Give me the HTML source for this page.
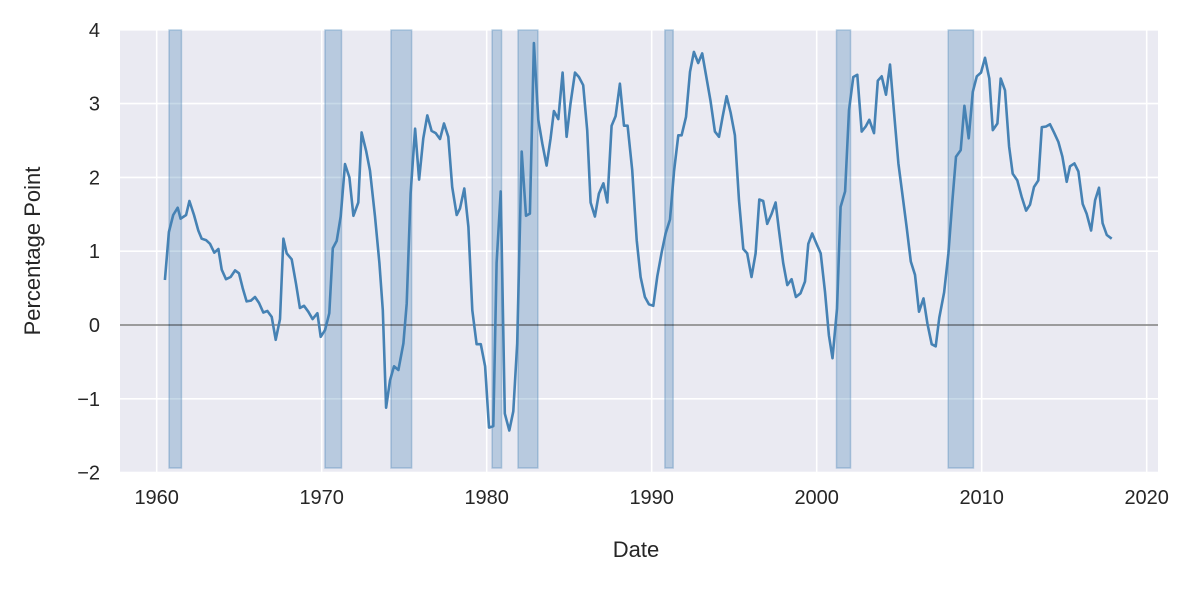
<!DOCTYPE html>
<html><head><meta charset="utf-8"><style>
body{margin:0;background:#fff;font-family:"Liberation Sans",Arial,sans-serif}
svg text{font-family:"Liberation Sans",Arial,sans-serif;fill:#262626}
</style></head><body>
<svg id="c" width="1196" height="585" viewBox="0 0 1196 585">
<defs><clipPath id="pc"><rect x="120" y="30" width="1038" height="442"/></clipPath></defs>
<rect x="120" y="30" width="1038" height="442" fill="#eaeaf2"/>
<g id="grid"></g><g id="bands"></g><g id="ticks"></g>
<line id="zero"/>
<path id="series" fill="none" stroke="#4682b4" stroke-width="2.6" stroke-linejoin="round" clip-path="url(#pc)"/>
<text x="636" y="557" text-anchor="middle" font-size="22">Date</text>
<text transform="translate(40,251) rotate(-90)" text-anchor="middle" font-size="22">Percentage Point</text>
</svg>
<script>
const xTicks=[1960,1970,1980,1990,2000,2010,2020];
const yTicks=[-2,-1,0,1,2,3,4];
const recStart=[1960.75,1970.2,1974.2,1980.33,1981.9,1990.8,2001.2,2007.97];
const recEnd=[1961.5,1971.2,1975.45,1980.9,1983.1,1991.3,2002.05,2009.5];
const dates=[1960.5,1960.74,1961.0,1961.27,1961.45,1961.78,1961.98,1962.26,1962.52,1962.73,1962.99,1963.23,1963.49,1963.74,1963.94,1964.2,1964.48,1964.75,1964.99,1965.21,1965.45,1965.71,1965.96,1966.2,1966.46,1966.71,1966.97,1967.21,1967.47,1967.68,1967.88,1968.18,1968.44,1968.68,1968.93,1969.19,1969.45,1969.74,1969.94,1970.2,1970.46,1970.67,1970.91,1971.15,1971.41,1971.68,1971.92,1972.22,1972.42,1972.69,1972.93,1973.23,1973.5,1973.7,1973.9,1974.14,1974.38,1974.65,1974.95,1975.15,1975.39,1975.66,1975.9,1976.16,1976.4,1976.66,1976.91,1977.17,1977.41,1977.67,1977.91,1978.18,1978.38,1978.64,1978.89,1979.13,1979.39,1979.64,1979.9,1980.14,1980.4,1980.6,1980.85,1981.1,1981.37,1981.61,1981.85,1982.12,1982.38,1982.62,1982.86,1983.13,1983.37,1983.63,1983.87,1984.07,1984.34,1984.6,1984.84,1985.08,1985.35,1985.59,1985.85,1986.09,1986.3,1986.56,1986.8,1987.07,1987.31,1987.57,1987.81,1988.07,1988.32,1988.54,1988.82,1989.09,1989.33,1989.59,1989.83,1990.1,1990.34,1990.6,1990.84,1991.11,1991.35,1991.61,1991.81,1992.08,1992.32,1992.56,1992.82,1993.06,1993.33,1993.57,1993.83,1994.08,1994.3,1994.54,1994.78,1995.04,1995.29,1995.55,1995.79,1996.05,1996.3,1996.52,1996.76,1997.0,1997.27,1997.51,1997.71,1997.97,1998.22,1998.48,1998.74,1999.02,1999.29,1999.49,1999.73,1999.99,2000.24,2000.5,2000.74,2000.96,2001.23,2001.45,2001.72,2001.96,2002.22,2002.46,2002.73,2002.97,2003.19,2003.47,2003.7,2003.94,2004.2,2004.44,2004.69,2004.95,2005.19,2005.45,2005.7,2005.96,2006.2,2006.47,2006.71,2006.97,2007.21,2007.43,2007.72,2007.98,2008.22,2008.44,2008.73,2008.95,2009.21,2009.46,2009.7,2009.96,2010.2,2010.46,2010.67,2010.95,2011.15,2011.41,2011.66,2011.88,2012.16,2012.42,2012.69,2012.93,2013.17,2013.43,2013.64,2013.9,2014.14,2014.38,2014.65,2014.89,2015.15,2015.35,2015.62,2015.86,2016.12,2016.36,2016.63,2016.87,2017.11,2017.33,2017.58,2017.88];
const values=[0.61,1.26,1.49,1.59,1.44,1.49,1.68,1.49,1.28,1.17,1.15,1.10,0.98,1.03,0.75,0.62,0.65,0.74,0.70,0.50,0.32,0.33,0.38,0.30,0.17,0.19,0.11,-0.20,0.08,1.17,0.97,0.89,0.56,0.23,0.26,0.18,0.08,0.16,-0.16,-0.07,0.16,1.04,1.14,1.47,2.18,2.00,1.48,1.66,2.61,2.36,2.09,1.47,0.84,0.20,-1.12,-0.75,-0.56,-0.61,-0.25,0.29,1.78,2.66,1.97,2.53,2.84,2.63,2.60,2.52,2.73,2.55,1.87,1.49,1.58,1.85,1.33,0.20,-0.26,-0.26,-0.56,-1.39,-1.37,0.84,1.81,-1.20,-1.43,-1.17,-0.25,2.35,1.48,1.51,3.82,2.78,2.46,2.16,2.53,2.90,2.79,3.42,2.55,3.00,3.42,3.36,3.25,2.64,1.66,1.47,1.78,1.92,1.66,2.70,2.83,3.27,2.70,2.70,2.10,1.15,0.65,0.38,0.28,0.26,0.66,0.98,1.24,1.43,2.08,2.57,2.57,2.82,3.43,3.70,3.55,3.68,3.34,3.03,2.62,2.55,2.82,3.10,2.88,2.57,1.69,1.03,0.97,0.65,0.97,1.70,1.68,1.37,1.51,1.66,1.29,0.84,0.54,0.62,0.38,0.43,0.59,1.10,1.24,1.10,0.97,0.45,-0.14,-0.45,0.22,1.60,1.81,2.91,3.36,3.39,2.62,2.69,2.78,2.60,3.31,3.37,3.12,3.53,2.87,2.19,1.78,1.33,0.86,0.68,0.18,0.36,0.02,-0.26,-0.29,0.10,0.44,0.97,1.67,2.28,2.37,2.97,2.53,3.16,3.37,3.42,3.62,3.34,2.64,2.73,3.34,3.18,2.42,2.05,1.96,1.74,1.55,1.63,1.87,1.96,2.68,2.69,2.72,2.61,2.48,2.28,1.94,2.15,2.19,2.08,1.64,1.51,1.28,1.69,1.86,1.38,1.22,1.17];
const NS='http://www.w3.org/2000/svg';
const X=yr=>156.7+16.5*(yr-1960);
const Y=v=>325-73.8*v;
function mk(tag,attrs,parent){const e=document.createElementNS(NS,tag);for(const k in attrs)e.setAttribute(k,attrs[k]);parent.appendChild(e);return e;}
const grid=document.getElementById('grid'),bands=document.getElementById('bands'),ticks=document.getElementById('ticks');
xTicks.forEach(t=>{
 const l=mk('line',{x1:X(t),x2:X(t),y1:30,y2:472,stroke:'#fff','stroke-width':1.6},grid);
 
 
 const tx=mk('text',{x:X(t),y:504,'text-anchor':'middle','font-size':20},ticks);
 tx.textContent=t;
 
 
});
yTicks.forEach(t=>{
 const l=mk('line',{x1:120,x2:1158,y1:Y(t),y2:Y(t),stroke:'#fff','stroke-width':1.6},grid);
 
 
 const tx=mk('text',{x:100,y:Y(t)+7,'text-anchor':'end','font-size':20},ticks);
 tx.textContent=t<0?'\u2212'+Math.abs(t):t;
 
 
});
recStart.forEach((s,i)=>{
 const r=mk('rect',{x:X(s),y:30,width:X(recEnd[i])-X(s),height:438,fill:'rgba(70,130,180,0.3)',stroke:'rgba(70,130,180,0.35)','stroke-width':1.5},bands);
 
 
});
const z=document.getElementById('zero');
z.setAttribute('x1',120);z.setAttribute('x2',1158);z.setAttribute('y1',Y(0));z.setAttribute('y2',Y(0));
z.setAttribute('stroke','rgba(0,0,0,0.5)');z.setAttribute('stroke-width',1.6);
document.getElementById('series').setAttribute('d',dates.map((d,i)=>(i?'L':'M')+X(d).toFixed(1)+','+Y(values[i]).toFixed(1)).join(''));
</script>
</body></html>
